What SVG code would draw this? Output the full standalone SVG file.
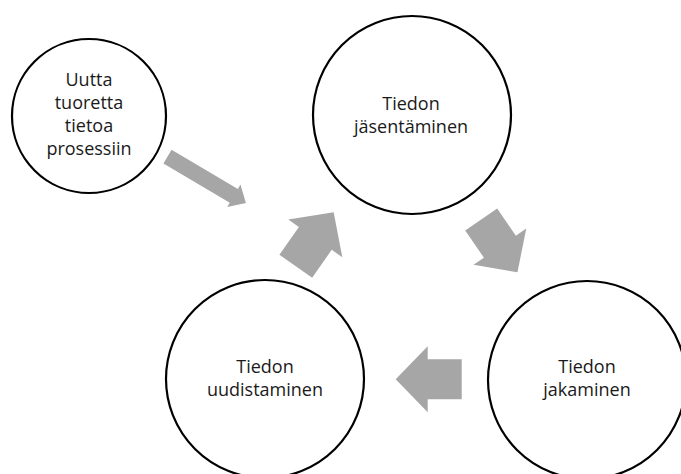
<svg xmlns="http://www.w3.org/2000/svg" width="681" height="474" viewBox="0 0 681 474">
  <style>
    .node circle { fill: #ffffff; stroke: #000000; stroke-width: 2.2; }
    .node text { font-family: "Open Sans", "Noto Sans", "DejaVu Sans", sans-serif; font-size: 18px; fill: #1a1a1a; text-anchor: middle; }
    .arrow { fill: #a6a6a6; stroke: none; }
  </style>
  <defs>
    <!-- block arrow pointing along +x, base centred at the origin -->
    <polygon id="block" points="0,-20 34,-20 34,-33 66,0 34,33 34,20 0,20"/>
  </defs>

  <g id="connectors">
    <!-- thin input arrow -->
    <polygon class="arrow" transform="translate(167.5,156.7) rotate(30.5)" points="0,-8 77,-8 77,-13 91,0 77,13 77,8 0,8"/>
    <!-- cycle arrows -->
    <use class="arrow" href="#block" transform="translate(481.2,219.5) rotate(55.5) scale(0.97)"/>
    <use class="arrow" href="#block" transform="translate(461.7,379.3) rotate(180)"/>
    <use class="arrow" href="#block" transform="translate(295.8,266.2) rotate(-55)"/>
  </g>

  <g id="node-input" class="node">
    <circle cx="89" cy="116" r="77"/>
    <text x="89" y="86">Uutta</text>
    <text x="89" y="109">tuoretta</text>
    <text x="89" y="132">tietoa</text>
    <text x="89" y="155">prosessiin</text>
  </g>

  <g id="node-structuring" class="node">
    <circle cx="412" cy="115" r="99"/>
    <text x="411" y="110">Tiedon</text>
    <text x="411" y="133">jäsentäminen</text>
  </g>

  <g id="node-sharing" class="node">
    <circle cx="587" cy="380" r="99"/>
    <text x="587" y="373">Tiedon</text>
    <text x="587" y="396">jakaminen</text>
  </g>

  <g id="node-renewal" class="node">
    <circle cx="265" cy="379" r="99"/>
    <text x="265" y="373">Tiedon</text>
    <text x="265" y="396">uudistaminen</text>
  </g>
</svg>
